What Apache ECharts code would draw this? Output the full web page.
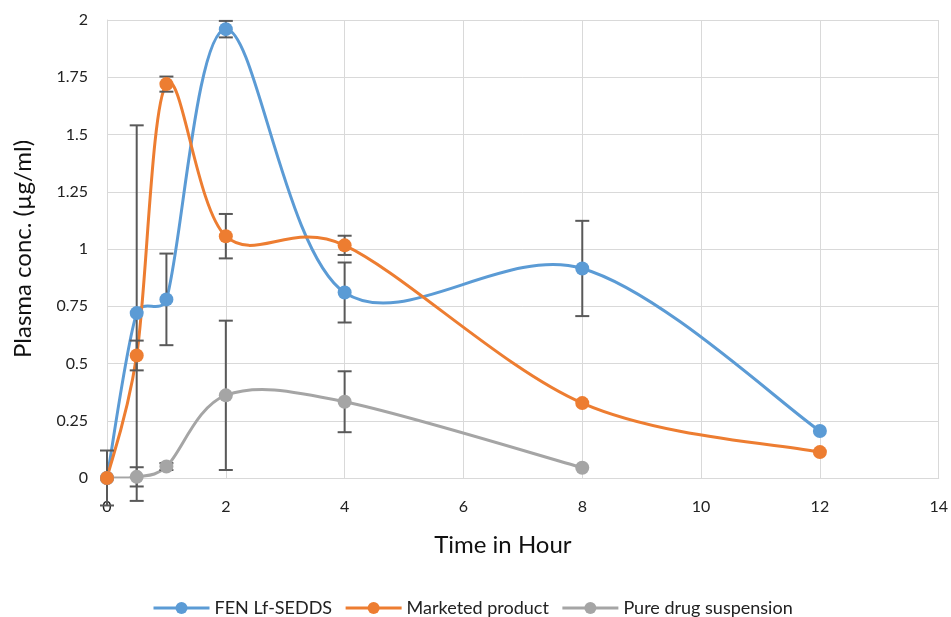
<!DOCTYPE html>
<html>
<head>
<meta charset="utf-8">
<script src="https://cdn.jsdelivr.net/npm/echarts@6/dist/echarts.min.js"></script>
<style>
  html, body { margin: 0; padding: 0; background: #fff; }
  #chart { width: 951px; height: 617px; }
</style>
</head>
<body>
<div id="chart"></div>
<script>
// time points (hour)
var timeFen = [0, 0.5, 1, 2, 4, 8, 12]
var timeMkt = [0, 0.5, 1, 2, 4, 8, 12]
var timePure = [0, 0.5, 1, 2, 4, 8]

// plasma conc. (µg/ml)
var fenValues = [0, 0.72, 0.78, 1.96, 0.81, 0.915, 0.205]
var mktValues = [0, 0.535, 1.72, 1.056, 1.016, 0.327, 0.113]
var pureValues = [0, 0.005, 0.05, 0.361, 0.333, 0.045]

// +/- error (null = no bar)
var fenErr = [0.12, 0.82, 0.2, 0.036, 0.131, 0.208, null]
var mktErr = [null, 0.065, 0.033, 0.097, 0.042, null, null]
var pureErr = [null, 0.042, 0.015, 0.326, 0.133, null]

var seriesNames = ['FEN Lf-SEDDS', 'Marketed product', 'Pure drug suspension']
var colors = ['#5B9BD5', '#ED7D31', '#A5A5A5']

function pairs(xs, ys) {
  return xs.map(function (x, i) { return [x, ys[i]] })
}

function errData(xs, ys, es) {
  var out = []
  xs.forEach(function (x, i) {
    if (es[i] != null) out.push([x, ys[i] - es[i], ys[i] + es[i]])
  })
  return out
}

var fenData = pairs(timeFen, fenValues)
var mktData = pairs(timeMkt, mktValues)
var pureData = pairs(timePure, pureValues)

var errBars = []
  .concat(errData(timeFen, fenValues, fenErr))
  .concat(errData(timeMkt, mktValues, mktErr))
  .concat(errData(timePure, pureValues, pureErr))

var chart = echarts.init(document.getElementById('chart'))

var font = 'Lato, "Open Sans", sans-serif'

function dist(a, b) {
  return Math.sqrt((a[0] - b[0]) * (a[0] - b[0]) + (a[1] - b[1]) * (a[1] - b[1]))
}

// excel-like smoothed curve, one bezier segment per data point
function curveSeries(data, color, z) {
  return {
    type: 'custom',
    clip: true,
    silent: true,
    z: z,
    data: data,
    encode: { x: 0, y: 1 },
    renderItem: function (params, api) {
      var i = params.dataIndex
      if (i >= data.length - 1) return { type: 'group', children: [] }
      var pts = data.map(function (d) { return api.coord(d) })
      var p1 = pts[i], p2 = pts[i + 1]
      var p0 = i > 0 ? pts[i - 1] : p1
      var p3 = i + 2 < pts.length ? pts[i + 2] : p2
      var d12 = dist(p1, p2)
      var d02 = dist(p0, p2), d13 = dist(p1, p3)
      var f = d02 > 0 ? Math.min(1 / 6, d12 / (2 * d02)) : 0
      var g = d13 > 0 ? Math.min(1 / 6, d12 / (2 * d13)) : 0
      return {
        type: 'bezierCurve',
        shape: {
          x1: p1[0], y1: p1[1], x2: p2[0], y2: p2[1],
          cpx1: p1[0] + f * (p2[0] - p0[0]), cpy1: p1[1] + f * (p2[1] - p0[1]),
          cpx2: p2[0] - g * (p3[0] - p1[0]), cpy2: p2[1] - g * (p3[1] - p1[1])
        },
        style: { stroke: color, lineWidth: 3, fill: null }
      }
    }
  }
}

function markerSeries(name, data, color, z) {
  return {
    name: name,
    type: 'line',
    data: data,
    symbol: 'circle',
    symbolSize: 14,
    showSymbol: true,
    z: z,
    itemStyle: { color: color },
    lineStyle: { color: color, width: 3, opacity: 0 },
    emphasis: { disabled: true }
  }
}

chart.setOption({
  animation: false,
  textStyle: { fontFamily: font },
  color: colors,
  grid: { left: 107, right: 10, top: 20, bottom: 139 },
  legend: {
    top: 594,
    left: 147,
    itemWidth: 56,
    itemHeight: 15,
    itemGap: 12,
    data: seriesNames,
    lineStyle: { opacity: 1, width: 3 },
    textStyle: { fontSize: 18, color: '#222', fontFamily: font }
  },
  xAxis: {
    type: 'value',
    min: 0,
    max: 14,
    interval: 2,
    name: 'Time in Hour',
    nameLocation: 'middle',
    nameGap: 55,
    nameTextStyle: { fontSize: 24, color: '#111', fontFamily: font, padding: [0, 40, 0, 0] },
    axisLine: { show: true, onZero: true, lineStyle: { color: '#d9d9d9', width: 1 } },
    axisTick: { show: false },
    axisLabel: { fontSize: 16, color: '#222', margin: 21 },
    splitLine: { show: true, lineStyle: { color: '#d9d9d9', width: 1 } }
  },
  yAxis: {
    type: 'value',
    min: 0,
    max: 2,
    interval: 0.25,
    name: 'Plasma conc. (µg/ml)',
    nameLocation: 'middle',
    nameGap: 72,
    nameTextStyle: { fontSize: 24, color: '#111', fontFamily: font },
    axisLine: { show: true, lineStyle: { color: '#d9d9d9', width: 1 } },
    axisTick: { show: false },
    axisLabel: { fontSize: 16, color: '#222', margin: 19 },
    splitLine: { show: true, lineStyle: { color: '#d9d9d9', width: 1 } }
  },
  series: [
    curveSeries(fenData, colors[0], 3),
    curveSeries(mktData, colors[1], 4),
    curveSeries(pureData, colors[2], 2),
    {
      type: 'custom',
      clip: false,
      z: 6,
      silent: true,
      data: errBars,
      encode: { x: 0, y: [1, 2] },
      renderItem: function (params, api) {
        var lo = api.coord([api.value(0), api.value(1)])
        var hi = api.coord([api.value(0), api.value(2)])
        var half = 7
        var style = { stroke: '#595959', lineWidth: 2 }
        return {
          type: 'group',
          children: [
            { type: 'line', shape: { x1: lo[0], y1: lo[1], x2: hi[0], y2: hi[1] }, style: style },
            { type: 'line', shape: { x1: hi[0] - half, y1: hi[1], x2: hi[0] + half, y2: hi[1] }, style: style },
            { type: 'line', shape: { x1: lo[0] - half, y1: lo[1], x2: lo[0] + half, y2: lo[1] }, style: style }
          ]
        }
      }
    },
    markerSeries(seriesNames[0], fenData, colors[0], 8),
    markerSeries(seriesNames[1], mktData, colors[1], 9),
    markerSeries(seriesNames[2], pureData, colors[2], 7)
  ]
})
</script>
</body>
</html>
